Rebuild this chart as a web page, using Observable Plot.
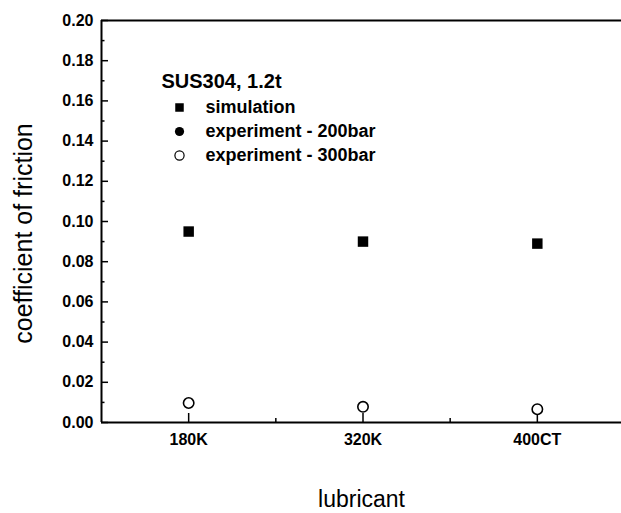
<!DOCTYPE html>
<html><head><meta charset="utf-8">
<script src="https://cdn.jsdelivr.net/npm/d3@7"></script>
<script src="https://cdn.jsdelivr.net/npm/@observablehq/plot@0.6"></script>
<style>
body{margin:0;background:#fff;}
#chart svg{font-family:"Liberation Sans",Arial,sans-serif;}
</style>
</head><body><div id="chart"></div>
<script>
// ---- data ----
const lubricants = ["180K", "320K", "400CT"];
const simulation = [0.095, 0.090, 0.089];
const experiment200 = []; // no visible points for this series
const experiment300 = [0.0097, 0.0078, 0.0066];
const yTicks = [0, 0.02, 0.04, 0.06, 0.08, 0.10, 0.12, 0.14, 0.16, 0.18, 0.20];
const yMinorTicks = [0.01, 0.03, 0.05, 0.07, 0.09, 0.11, 0.13, 0.15, 0.17, 0.19];
const xLabel = "lubricant";
const yLabel = "coefficient of friction";
const legendTitle = "SUS304, 1.2t";
const legendLabels = ["simulation", "experiment - 200bar", "experiment - 300bar"];
const legendSymbols = ["square", "circle", "circle"];
const legendFills = ["black", "black", "white"];

// ---- layout ----
const W = 621, H = 513, ML = 101, MR = 0, MT = 20, MB = 91;
const FW = W - ML - MR, FH = H - MT - MB;

const xIndex = lubricants.map((d, i) => i + 1);
const xMinor = xIndex.slice(1).map(i => i - 0.5);
const simData = lubricants.map((l, i) => ({x: i + 1, y: simulation[i]}));
const e200Data = experiment200.map((v, i) => ({x: i + 1, y: v}));
const e300Data = experiment300.map((v, i) => ({x: i + 1, y: v}));

const legendMarks = [
  Plot.text([legendTitle], {frameAnchor: "top-left", dx: 60, dy: 61, text: d => d, textAnchor: "start", lineAnchor: "middle", fontSize: 20, fontWeight: "bold", fill: "black"})
];
legendLabels.forEach((lab, i) => {
  legendMarks.push(Plot.dot([lab], {frameAnchor: "top-left", dx: 78, dy: 87 + i * 24, symbol: legendSymbols[i], r: i === 0 ? 4.8 : 4.6, fill: legendFills[i], stroke: "black", strokeWidth: i === 2 ? 1.2 : 0}));
  legendMarks.push(Plot.text([lab], {frameAnchor: "top-left", dx: 104, dy: 87 + i * 24, text: d => d, textAnchor: "start", lineAnchor: "middle", fontSize: 18, fontWeight: "bold", fill: "black"}));
});

const chart = Plot.plot({
  width: W, height: H,
  marginLeft: ML, marginRight: MR, marginTop: MT, marginBottom: MB,
  style: {background: "white", color: "black"},
  x: {type: "linear", domain: [0.5, 3.5], range: [ML, 624]},
  y: {domain: [0, 0.2], range: [H - MB, MT]},
  marks: [
    // frame lines
    Plot.ruleY([0.2], {stroke: "black", strokeWidth: 2}),
    Plot.ruleY([0], {stroke: "black", strokeWidth: 2}),
    Plot.ruleX([0.5], {stroke: "black", strokeWidth: 2}),
    // inward ticks
    Plot.tickY(yTicks, {y: d => d, insetRight: FW - 7, stroke: "black", strokeWidth: 1.5}),
    Plot.tickY(yMinorTicks, {y: d => d, insetRight: FW - 3.5, stroke: "black", strokeWidth: 1.5}),
    Plot.tickX(xIndex, {x: d => d, insetTop: FH - 9, stroke: "black", strokeWidth: 1.5}),
    Plot.tickX(xMinor, {x: d => d, insetTop: FH - 4, stroke: "black", strokeWidth: 1.5}),
    // axes (tick labels)
    Plot.axisY({ticks: yTicks, tickFormat: d3.format(".2f"), tickSize: 0, tickPadding: 8, fontSize: 16, fontWeight: "bold", label: null}),
    Plot.axisX({ticks: xIndex, tickFormat: i => lubricants[i - 1], tickSize: 0, tickPadding: 11, fontSize: 16, fontWeight: "bold",
      label: xLabel, labelAnchor: "center", labelArrow: "none", labelOffset: 84}),
    // y axis title
    Plot.text([yLabel], {frameAnchor: "left", dx: -70, dy: 12, rotate: -90, text: d => d, textAnchor: "middle", lineAnchor: "bottom", fontSize: 25, fill: "black"}),
    // data
    Plot.dot(simData, {x: "x", y: "y", symbol: "square", r: 5.9, fill: "black", stroke: "none"}),
    Plot.dot(e200Data, {x: "x", y: "y", symbol: "circle", r: 5.3, fill: "black", stroke: "none"}),
    Plot.dot(e300Data, {x: "x", y: "y", symbol: "circle", r: 5.2, fill: "white", stroke: "black", strokeWidth: 1.6}),
    ...legendMarks
  ]
});
chart.querySelectorAll("[aria-label='x-axis label'] text").forEach(t => {
  t.setAttribute("font-size", 23); t.setAttribute("font-weight", "normal");
});
document.getElementById("chart").appendChild(chart);
</script>
</body></html>
